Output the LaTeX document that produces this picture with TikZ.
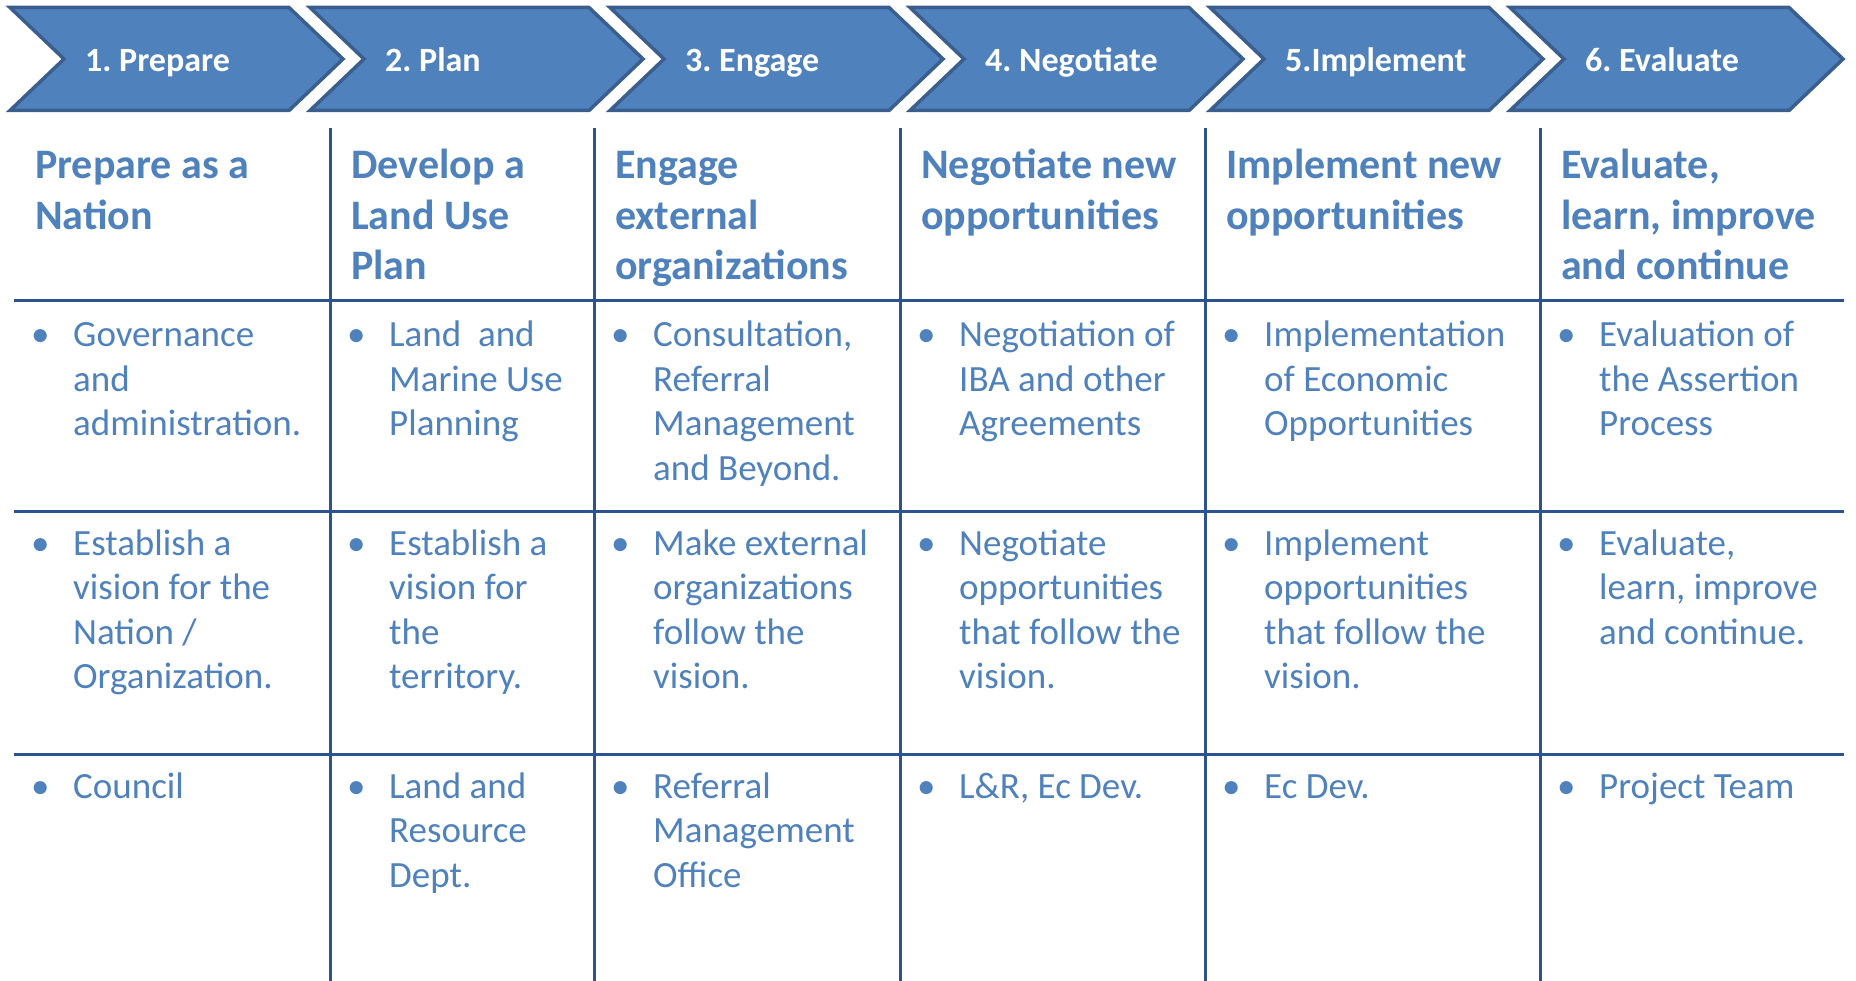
\documentclass[tikz,border=0pt]{standalone}
\usepackage{fontspec}
\setmainfont{Carlito}
\frenchspacing
\definecolor{chevfill}{HTML}{4F81BD}
\definecolor{chevdraw}{HTML}{3A5F8E}
\definecolor{gridblue}{HTML}{2C5290}
\definecolor{txtblue}{HTML}{4F81BD}
\newcommand\bul{\leavevmode\llap{\makebox[42pt][l]{•}}}
\newcommand\celltext[1]{\parbox[t]{330pt}{\raggedright #1}}
\begin{document}
\begin{tikzpicture}[x=1pt,y=-1pt,
  chev/.style={fill=chevfill,draw=chevdraw,line width=3.5pt,line join=miter},
  chevlabel/.style={anchor=base west,inner sep=0pt,text=white,font=\fontsize{34}{41}\selectfont\bfseries},
  gridline/.style={draw=gridblue,line width=3pt},
  headtext/.style={anchor=base west,inner sep=0pt,text=txtblue,font=\fontsize{42}{50.5}\selectfont\bfseries},
  bodytext/.style={anchor=base west,inner sep=0pt,text=txtblue,font=\fontsize{37}{44.5}\selectfont}]
\useasboundingbox (0,0) rectangle (1856,981);
% chevrons
\foreach \i/\lab in {0/{1. Prepare},1/{2. Plan},2/{3. Engage},3/{4. Negotiate},4/{5.Implement},5/{6. Evaluate}}{
  \pgfmathsetmacro\L{10+300*\i}
  \draw[chev] (\L,7.5) -- (\L+279,7.5) -- (\L+333,59) -- (\L+279,110.5) -- (\L,110.5) -- (\L+54,59) -- cycle;
  \node[chevlabel] (lab\i) at (\L+75,72) {\lab};
}
% grid
\foreach \x in {330,594,900,1205,1540}{
  \draw[gridline] (\x,128) -- (\x,981);
}
\foreach \y in {301,511,754}{
  \draw[gridline] (14,\y) -- (1844,\y);
}
% headers
\node[headtext] (h1) at (35,179)   {\celltext{Prepare as a\\Nation}};
\node[headtext] (h2) at (351,179)  {\celltext{Develop a\\Land Use\\Plan}};
\node[headtext] (h3) at (615,179)  {\celltext{Engage\\external\\organizations}};
\node[headtext] (h4) at (921,179)  {\celltext{Negotiate new\\opportunities}};
\node[headtext] (h5) at (1226,179) {\celltext{Implement new\\opportunities}};
\node[headtext] (h6) at (1561,179) {\celltext{Evaluate,\\learn, improve\\and continue}};
% row 1
\node[bodytext] (a1) at (73,347)   {\celltext{\bul Governance\\and\\administration.}};
\node[bodytext] (a2) at (389,347)  {\celltext{\bul Land\ \ and\\Marine Use\\Planning}};
\node[bodytext] (a3) at (653,347)  {\celltext{\bul Consultation,\\Referral\\Management\\and Beyond.}};
\node[bodytext] (a4) at (959,347)  {\celltext{\bul Negotiation of\\IBA and other\\Agreements}};
\node[bodytext] (a5) at (1264,347) {\celltext{\bul Implementation\\of Economic\\Opportunities}};
\node[bodytext] (a6) at (1599,347) {\celltext{\bul Evaluation of\\the Assertion\\Process}};
% row 2
\node[bodytext] (b1) at (73,555)   {\celltext{\bul Establish a\\vision for the\\Nation /\\Organization.}};
\node[bodytext] (b2) at (389,555)  {\celltext{\bul Establish a\\vision for\\the\\territory.}};
\node[bodytext] (b3) at (653,555)  {\celltext{\bul Make external\\organizations\\follow the\\vision.}};
\node[bodytext] (b4) at (959,555)  {\celltext{\bul Negotiate\\opportunities\\that follow the\\vision.}};
\node[bodytext] (b5) at (1264,555) {\celltext{\bul Implement\\opportunities\\that follow the\\vision.}};
\node[bodytext] (b6) at (1599,555) {\celltext{\bul Evaluate,\\learn, improve\\and continue.}};
% row 3
\node[bodytext] (c1) at (73,798)   {\celltext{\bul Council}};
\node[bodytext] (c2) at (389,798)  {\celltext{\bul Land and\\Resource\\Dept.}};
\node[bodytext] (c3) at (653,798)  {\celltext{\bul Referral\\Management\\Office}};
\node[bodytext] (c4) at (959,798)  {\celltext{\bul L\&R, Ec Dev.}};
\node[bodytext] (c5) at (1264,798) {\celltext{\bul Ec Dev.}};
\node[bodytext] (c6) at (1599,798) {\celltext{\bul Project Team}};
\end{tikzpicture}
\end{document}
